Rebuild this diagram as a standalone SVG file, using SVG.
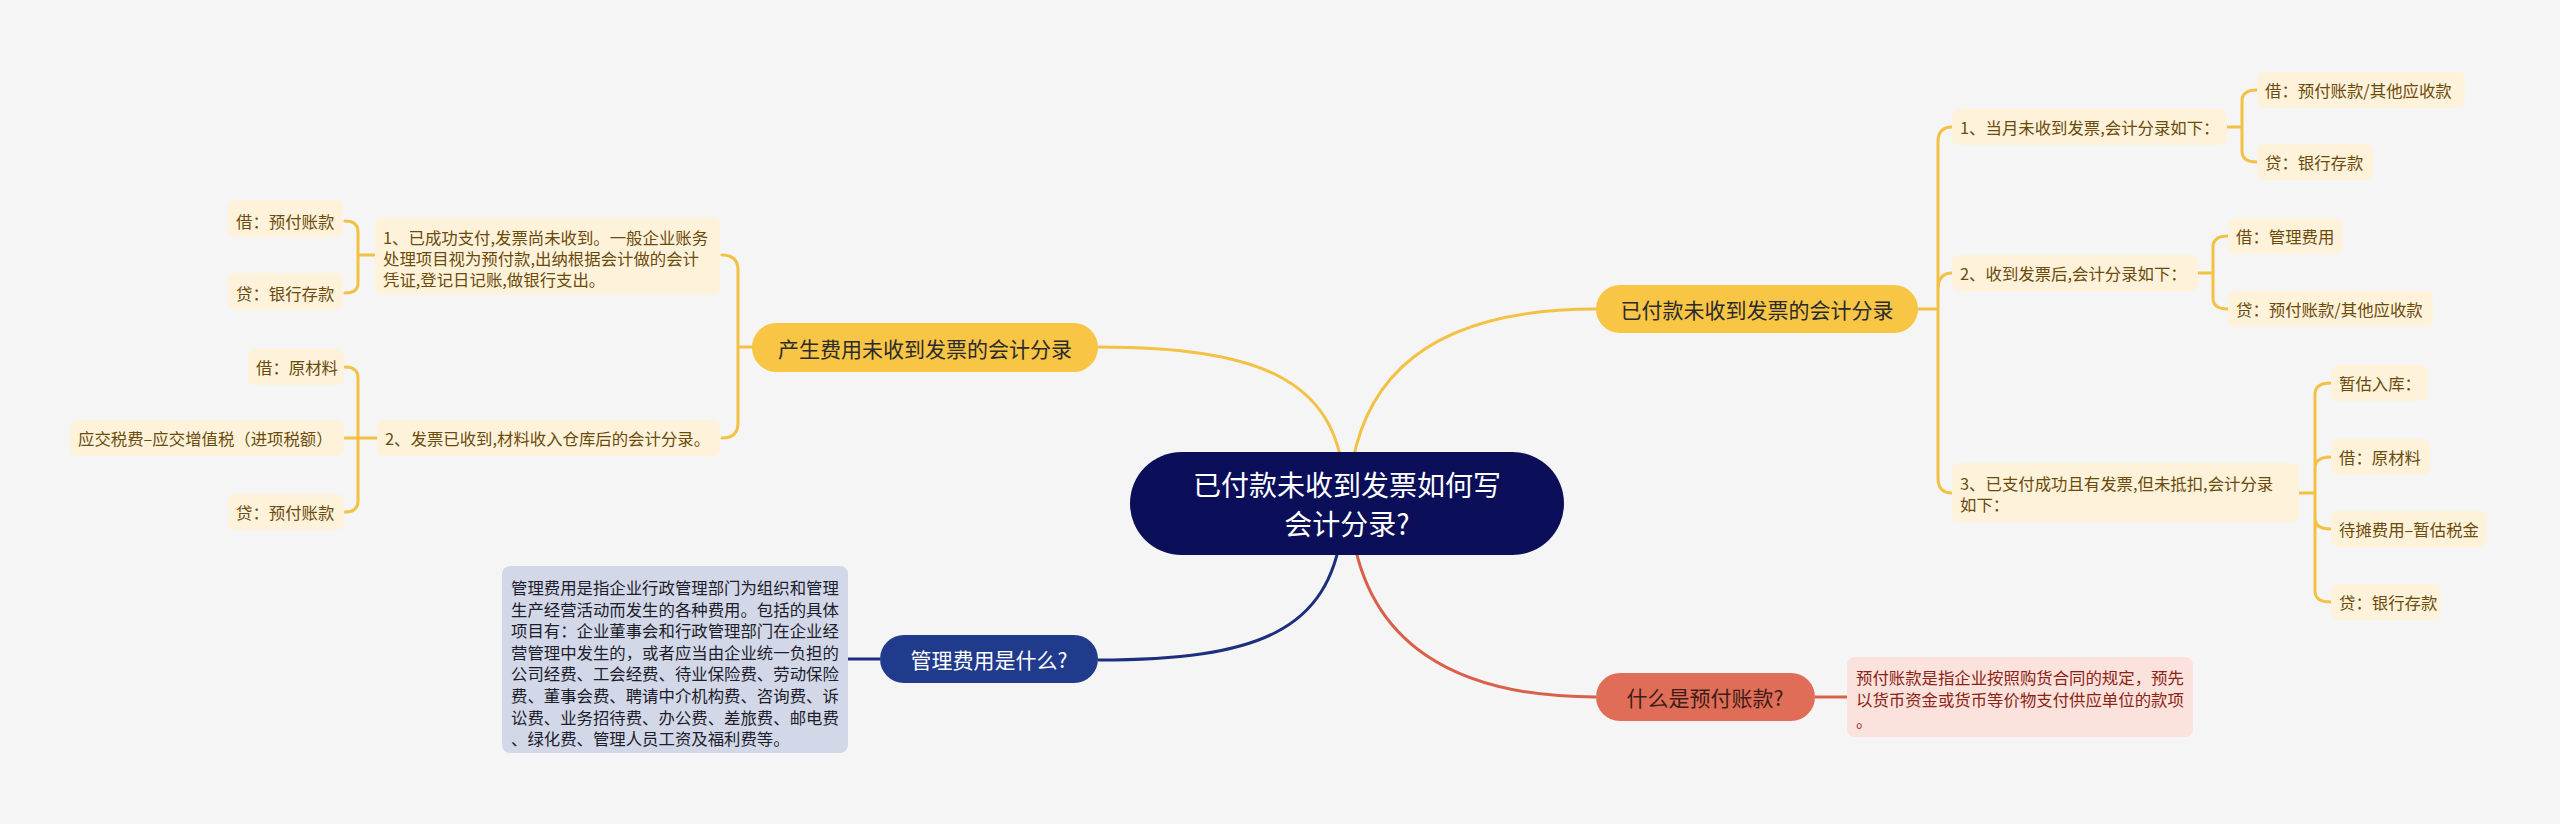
<svg xmlns="http://www.w3.org/2000/svg" width="2560" height="824" viewBox="0 0 2560 824">
<style>
text{font-family:"Noto Sans CJK SC","Noto Sans",sans-serif;dominant-baseline:central}
.c{text-anchor:middle}
.leaf rect{fill:#fef3da}
.leaf text{font-size:16.4px;fill:#6b4a0c}
.yl{fill:none;stroke:#f3c244;stroke-width:3;stroke-linecap:round}
.ybr text{font-size:21px;fill:#2b2b2b}
.ybr rect{fill:#f8c545}
</style>
<rect width="2560" height="824" fill="#f5f5f5"/>
<g id="connectors">
  <path class="yl" d="M1344 480 C1335 380 1260 347 1098 347"/>
  <path class="yl" d="M1350 480 C1362 370 1440 309 1596 309"/>
  <path d="M1342 530 C1328 630 1260 660 1098 660" fill="none" stroke="#1c2f7c" stroke-width="3"/>
  <path d="M1352 530 C1368 640 1450 697 1596 697" fill="none" stroke="#d9614a" stroke-width="3"/>
  <path d="M880 659 H848" fill="none" stroke="#1c2f7c" stroke-width="3"/>
  <path d="M1815 697 H1847" fill="none" stroke="#d9614a" stroke-width="3"/>
  <!-- left trunk -->
  <path class="yl" d="M752 347 H738 M738 347 V270 Q738 255 722 255 M738 347 V423 Q738 438 722 438"/>
  <!-- L1 bracket -->
  <path class="yl" d="M375 255 H358 M358 255 V232 Q358 221 345 221 M358 255 V283 Q358 293 345 293"/>
  <!-- L2 bracket -->
  <path class="yl" d="M377 438 H345 M358 438 V378 Q358 367 345 367 M358 438 V501 Q358 512 345 512"/>
  <!-- right trunk -->
  <path class="yl" d="M1918 309 H1938 M1938 309 V142 Q1938 127 1952 127 M1938 309 V290 Q1938 273 1952 273 M1938 309 V478 Q1938 493 1952 493"/>
  <!-- R1 bracket -->
  <path class="yl" d="M2227 127 H2242 M2242 127 V101 Q2242 90 2257 90 M2242 127 V151 Q2242 162 2257 162"/>
  <!-- R2 bracket -->
  <path class="yl" d="M2198 273 H2213 M2213 273 V247 Q2213 236 2228 236 M2213 273 V298 Q2213 309 2228 309"/>
  <!-- R3 bracket -->
  <path class="yl" d="M2299 493 H2315 M2315 493 V394 Q2315 383 2331 383 M2315 493 V468 Q2315 457 2331 457 M2315 493 V518 Q2315 529 2331 529 M2315 493 V591 Q2315 602 2331 602"/>
</g>
<g id="root">
  <rect x="1130" y="452" width="434" height="103" rx="51.5" fill="#0b0f5a"/>
  <text class="c" x="1347" y="484" font-size="28" fill="#fff">已付款未收到发票如何写</text>
  <text class="c" x="1347" y="523" font-size="28" fill="#fff">会计分录?</text>
</g>
<g id="branch-right" class="ybr">
  <rect x="1596" y="285" width="322" height="48" rx="24"/>
  <text class="c" x="1757" y="309">已付款未收到发票的会计分录</text>
</g>
<g id="branch-left" class="ybr">
  <rect x="752" y="323" width="346" height="49" rx="24.5"/>
  <text class="c" x="925" y="347.5">产生费用未收到发票的会计分录</text>
</g>
<g id="branch-blue">
  <rect x="880" y="635" width="218" height="48" rx="24" fill="#203a8c"/>
  <text class="c" x="989" y="659" font-size="21" fill="#fff">管理费用是什么?</text>
</g>
<g id="branch-red">
  <rect x="1596" y="673" width="219" height="48" rx="24" fill="#e06d57"/>
  <text class="c" x="1705" y="697" font-size="21" fill="#3d1d16">什么是预付账款?</text>
</g>
<g id="blue-note">
  <rect x="502" y="566" width="346" height="187" rx="8" fill="#d3d8e8"/>
  <g font-size="16.4" fill="#1d1d2b">
    <text x="511" y="587">管理费用是指企业行政管理部门为组织和管理</text>
    <text x="511" y="608.6">生产经营活动而发生的各种费用。包括的具体</text>
    <text x="511" y="630.2">项目有：企业董事会和行政管理部门在企业经</text>
    <text x="511" y="651.8">营管理中发生的，或者应当由企业统一负担的</text>
    <text x="511" y="673.4">公司经费、工会经费、待业保险费、劳动保险</text>
    <text x="511" y="695">费、董事会费、聘请中介机构费、咨询费、诉</text>
    <text x="511" y="716.6">讼费、业务招待费、办公费、差旅费、邮电费</text>
    <text x="511" y="738.2">、绿化费、管理人员工资及福利费等。</text>
  </g>
</g>
<g id="red-note">
  <rect x="1847" y="657" width="346" height="80" rx="8" fill="#fbe2dc"/>
  <g font-size="16.4" fill="#8c2416">
    <text x="1856" y="677">预付账款是指企业按照购货合同的规定，预先</text>
    <text x="1856" y="698.6">以货币资金或货币等价物支付供应单位的款项</text>
    <text x="1856" y="720.2">。</text>
  </g>
</g>
<g id="L1" class="leaf">
  <rect x="375" y="217" width="345" height="78" rx="7"/>
  <text x="383" y="237">1、已成功支付,发票尚未收到。一般企业账务</text>
  <text x="383" y="258">处理项目视为预付款,出纳根据会计做的会计</text>
  <text x="383" y="279">凭证,登记日记账,做银行支出。</text>
</g>
<g id="L1a" class="leaf"><rect x="228" y="200" width="115" height="37" rx="7"/><text x="236" y="221">借：预付账款</text></g>
<g id="L1b" class="leaf"><rect x="228" y="273" width="115" height="37" rx="7"/><text x="236" y="293">贷：银行存款</text></g>
<g id="L2" class="leaf"><rect x="377" y="420" width="343" height="36" rx="7"/><text x="385" y="438">2、发票已收到,材料收入仓库后的会计分录。</text></g>
<g id="L2a" class="leaf"><rect x="248" y="349" width="96" height="36" rx="7"/><text x="256" y="367">借：原材料</text></g>
<g id="L2b" class="leaf"><rect x="70" y="420" width="274" height="36" rx="7"/><text x="78" y="438">应交税费–应交增值税（进项税额）</text></g>
<g id="L2c" class="leaf"><rect x="228" y="494" width="116" height="36" rx="7"/><text x="236" y="512">贷：预付账款</text></g>
<g id="R1" class="leaf"><rect x="1952" y="109" width="275" height="36" rx="7"/><text x="1960" y="127">1、当月未收到发票,会计分录如下：</text></g>
<g id="R1a" class="leaf"><rect x="2257" y="72" width="208" height="36" rx="7"/><text x="2265" y="90">借：预付账款/其他应收款</text></g>
<g id="R1b" class="leaf"><rect x="2257" y="144" width="116" height="36" rx="7"/><text x="2265" y="162">贷：银行存款</text></g>
<g id="R2" class="leaf"><rect x="1952" y="255" width="246" height="36" rx="7"/><text x="1960" y="273">2、收到发票后,会计分录如下：</text></g>
<g id="R2a" class="leaf"><rect x="2228" y="218" width="115" height="36" rx="7"/><text x="2236" y="236">借：管理费用</text></g>
<g id="R2b" class="leaf"><rect x="2228" y="291" width="205" height="36" rx="7"/><text x="2236" y="309">贷：预付账款/其他应收款</text></g>
<g id="R3" class="leaf">
  <rect x="1952" y="463" width="347" height="59" rx="7"/>
  <text x="1960" y="482.5">3、已支付成功且有发票,但未抵扣,会计分录</text>
  <text x="1960" y="503.5">如下：</text>
</g>
<g id="R3a" class="leaf"><rect x="2331" y="365" width="97" height="36" rx="7"/><text x="2339" y="383">暂估入库：</text></g>
<g id="R3b" class="leaf"><rect x="2331" y="439" width="99" height="36" rx="7"/><text x="2339" y="457">借：原材料</text></g>
<g id="R3c" class="leaf"><rect x="2331" y="511" width="156" height="36" rx="7"/><text x="2339" y="529">待摊费用–暂估税金</text></g>
<g id="R3d" class="leaf"><rect x="2331" y="584" width="110" height="36" rx="7"/><text x="2339" y="602">贷：银行存款</text></g>
</svg>
